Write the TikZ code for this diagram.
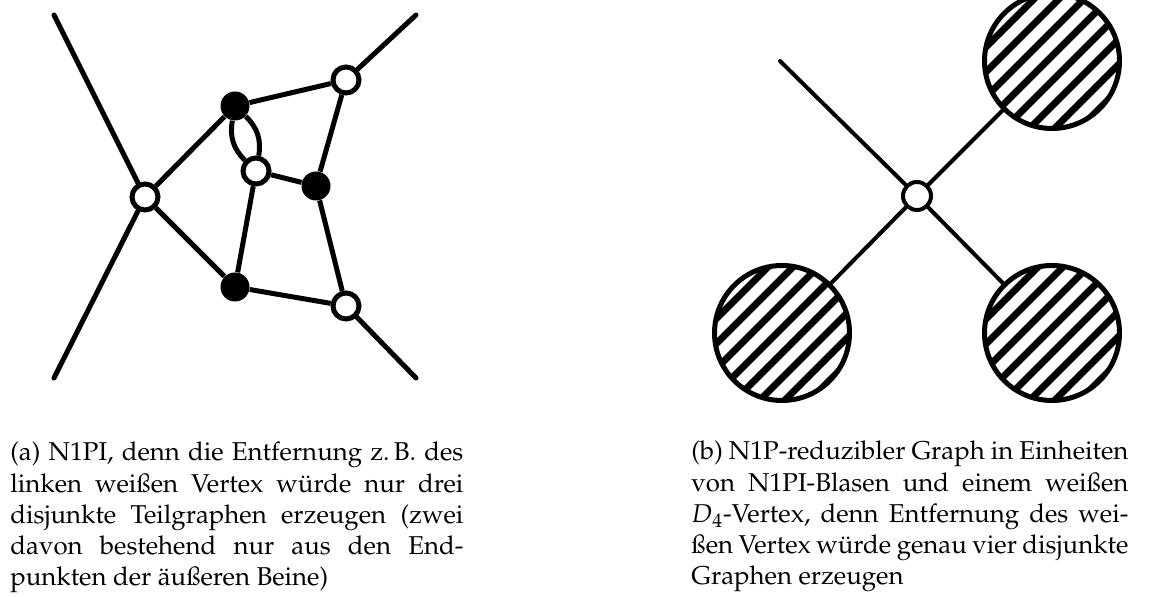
\documentclass[tikz,border=0pt]{standalone}
\usepackage[T1]{fontenc}
\usepackage{mathpazo}
\usetikzlibrary{calc}
\tikzset{
  wv/.style={circle, draw=black, fill=white, line width=2.5pt, minimum size=13pt, inner sep=0pt},
  bv/.style={circle, fill=black, minimum size=14.5pt, inner sep=0pt},
  wvr/.style={circle, draw=black, fill=white, line width=2pt, minimum size=14pt, inner sep=0pt},
  edg/.style={line width=2.5pt},
  leg/.style={line width=2.5pt, line cap=round},
  legr/.style={line width=2pt, line cap=round},
  blob/.style={circle, draw=black, line width=2.5pt, minimum size=67.5pt, inner sep=0pt,
    path picture={
      \foreach \k in {-5,...,5}
        \draw[line width=3.5pt] ($(path picture bounding box.center)+(\k*12.5-2.5,\k*12.5-2.5)+(-120,120)$) -- ++(240,-240);
    }},
  captxt/.style={inner sep=0pt, align=justify, font=\fontsize{12.9}{15.6}\selectfont}
}
\begin{document}
\begin{tikzpicture}[x=0.5pt,y=-0.5pt]
\useasboundingbox (0,0) rectangle (1152,597);
\clip (0,0) rectangle (1152,597);
% ---------- left graph ----------
\coordinate (lTL) at (54,15);
\coordinate (lBL) at (54,378);
\coordinate (lTR) at (416,15);
\coordinate (lBR) at (416,378);
\node[wv] (W1) at (145,197) {};
\node[bv] (B1) at (235,106) {};
\node[wv] (W2) at (346,80) {};
\node[wv] (W3) at (256,171) {};
\node[bv] (B2) at (316,186) {};
\node[bv] (B3) at (235,287) {};
\node[wv] (W4) at (346,306) {};
\draw[leg] (lTL) -- (W1);
\draw[leg] (lBL) -- (W1);
\draw[leg] (lTR) -- (W2);
\draw[leg] (lBR) -- (W4);
\draw[edg] (W1) -- (B1);
\draw[edg] (W1) -- (B3);
\draw[edg] (B1) -- (W2);
\draw[edg] (B1) to[bend left=28] (W3);
\draw[edg] (B1) to[bend right=28] (W3);
\draw[edg] (W3) -- (B2);
\draw[edg] (W3) -- (B3);
\draw[edg] (W2) -- (B2);
\draw[edg] (B2) -- (W4);
\draw[edg] (B3) -- (W4);
% ---------- right graph ----------
\coordinate (rTL) at (780,61);
\node[wvr] (C) at (917,196) {};
\node[blob] (bTR) at (1052,61) {};
\node[blob] (bBL) at (782,333) {};
\node[blob] (bBR) at (1052,333) {};
\draw[legr] (C) -- (rTL);
\draw[legr] (C) -- (bTR);
\draw[legr] (C) -- (bBL);
\draw[legr] (C) -- (bBR);
% ---------- captions ----------
\node[captxt, text width=226.5pt, anchor=base west] (capa) at (10,461)
  {(a)~N1PI,~denn~die~Entfernung~z.\,B.~des\linebreak
   linken~wei\ss en~Vertex~w\"urde~nur~drei\linebreak
   disjunkte~Teilgraphen~erzeugen~(zwei\linebreak
   davon~bestehend~nur~aus~den~End-\linebreak
   punkten der \"au\ss eren Beine)};
\node[captxt, text width=218.5pt, anchor=base west] (capb) at (691,460)
  {(b)~N1P-reduzibler~Graph~in~Einheiten\linebreak
   von~N1PI-Blasen~und~einem~wei\ss en\linebreak
   $D_4$-Vertex,~denn~Entfernung~des~wei-\linebreak
   \ss en~Vertex~w\"urde~genau~vier~disjunkte\linebreak
   Graphen erzeugen};
\end{tikzpicture}
\end{document}
